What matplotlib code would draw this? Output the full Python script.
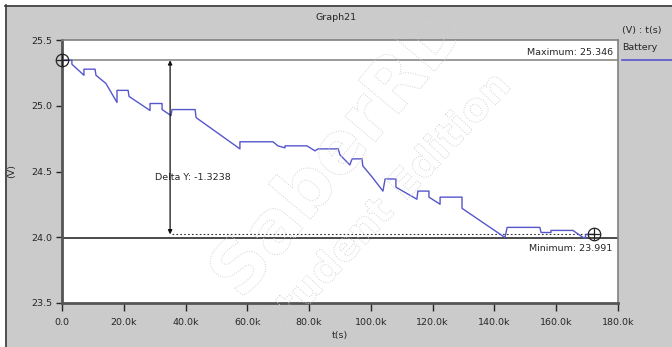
import matplotlib
matplotlib.use("Agg")
import matplotlib.pyplot as plt
import matplotlib.transforms as mtransforms
from matplotlib.patches import Rectangle, PathPatch
from matplotlib.textpath import TextPath
from matplotlib.font_manager import FontProperties
from matplotlib.ticker import FuncFormatter, MultipleLocator
from matplotlib.lines import Line2D
import numpy as np

# Battery voltage trace (time in k seconds, volts)
time_k = [0.0, 3.2, 3.2, 7.1, 7.1, 10.7, 11.0, 14.2, 17.8, 17.8, 21.4, 21.7,
          28.5, 28.5, 32.4, 32.4, 35.3, 35.6, 43.1, 43.4, 57.6, 57.6, 68.3,
          69.9, 72.2, 72.2, 79.3, 81.9, 82.9, 89.4, 90.0, 93.2, 93.9, 97.1,
          97.4, 100.4, 103.9, 104.6, 108.1, 108.1, 114.9, 115.2, 118.8, 118.8,
          122.4, 122.4, 129.5, 129.5, 143.4, 144.1, 154.7, 155.1, 158.3, 158.3,
          165.4, 168.7, 169.3, 169.6, 172.2]
volts = [25.346, 25.346, 25.316, 25.232, 25.278, 25.278, 25.232, 25.170,
         25.025, 25.117, 25.117, 25.071, 24.964, 25.017, 25.017, 24.971,
         24.925, 24.971, 24.971, 24.910, 24.672, 24.726, 24.726, 24.695,
         24.680, 24.695, 24.695, 24.657, 24.672, 24.672, 24.626, 24.550,
         24.596, 24.596, 24.542, 24.458, 24.351, 24.443, 24.443, 24.381,
         24.289, 24.351, 24.351, 24.305, 24.251, 24.305, 24.305, 24.220,
         23.998, 24.075, 24.075, 24.036, 24.036, 24.052, 24.052, 23.998,
         23.991, 24.022, 24.022]

# Cursor / measurement values
v_max = 25.346
v_min = 23.991
v_end = 24.022
delta_y = -1.3238
t_delta = 35.0e3
t_end = 172.2e3

W, H = 672, 347
GRAY = "#cbcbcb"
TRACE = "#5656cc"
TXT = "#262626"
FS = 6.8

fig = plt.figure(figsize=(W / 100, H / 100), dpi=100, facecolor="white")

# Sunken gray window panel
fig.add_artist(Rectangle((5 / W, 0), 1 - 5 / W, 1 - 5 / H, transform=fig.transFigure,
                         facecolor=GRAY, edgecolor="none", zorder=-10))
fig.add_artist(Line2D([5 / W, 1], [1 - 5.5 / H, 1 - 5.5 / H], transform=fig.transFigure,
                      color="#3a3a3a", lw=1.2))
fig.add_artist(Line2D([5.5 / W, 5.5 / W], [0, 1 - 5 / H], transform=fig.transFigure,
                      color="#3a3a3a", lw=1.2))

ax = fig.add_axes([62 / W, 1 - 303 / H, (618 - 62) / W, (303 - 40) / H])
ax.set_facecolor("white")

t_s = np.array(time_k) * 1000
ax.plot(t_s, volts, color=TRACE, lw=1.0, zorder=4)

# Max / min lines
ax.axhline(v_max, color="#8a8a8a", lw=1.2, zorder=2)
ax.axhline(v_min, color="#3c3c3c", lw=1.3, zorder=2)
ax.text(178.3e3, v_max + 0.025, "Maximum: 25.346", ha="right", va="bottom", fontsize=FS, color=TXT)
ax.text(178.3e3, v_min - 0.04, "Minimum: 23.991", ha="right", va="top", fontsize=FS, color=TXT)

# Delta Y cursor
ax.plot([t_delta + 500, t_end], [v_end, v_end], color="#333333", lw=0.8, ls=(0, (1.5, 2)), zorder=3)
ax.annotate("", xy=(t_delta, v_end), xytext=(t_delta, v_max),
            arrowprops=dict(arrowstyle="<|-|>", color="#111111", lw=0.9,
                            mutation_scale=6, shrinkA=0, shrinkB=0), zorder=5)
ax.text(30.1e3, 24.458, "Delta Y: " + str(delta_y), ha="left", va="center", fontsize=FS, color=TXT)

# Cursor crosshair markers
for cx, cy in [(0, v_max), (t_end, v_end)]:
    ax.plot(cx, cy, marker="o", ms=9, mfc="none", mec="#222222", mew=0.9, clip_on=False, zorder=6)
    ax.plot(cx, cy, marker="+", ms=9, mec="#222222", mew=0.9, clip_on=False, zorder=6)

ax.set_xlim(0, 180e3)
ax.set_ylim(23.5, 25.5)
ax.xaxis.set_major_locator(MultipleLocator(20e3))
ax.yaxis.set_major_locator(MultipleLocator(0.5))
ax.xaxis.set_major_formatter(FuncFormatter(lambda v, p: "0.0" if v == 0 else "%.1fk" % (v / 1000)))
ax.yaxis.set_major_formatter(FuncFormatter(lambda v, p: "%.1f" % v))
ax.tick_params(axis="both", labelsize=FS, colors=TXT, length=4, width=1, direction="out", pad=3)
ax.tick_params(axis="x", length=6, pad=5)

for side in ["left", "bottom"]:
    ax.spines[side].set_color("#555555")
    ax.spines[side].set_linewidth(2)
for side in ["top", "right"]:
    ax.spines[side].set_color("#808080")
    ax.spines[side].set_linewidth(1.2)

ax.set_xlabel("t(s)", fontsize=FS, color=TXT, labelpad=3)
ax.set_ylabel("(V)", fontsize=FS, color=TXT, labelpad=11)

fig.text(336 / W, 1 - 17 / H, "Graph21", ha="center", va="center", fontsize=FS, color=TXT)

# Legend column on the right
fig.text(622 / W, 1 - 30 / H, "(V) : t(s)", ha="left", va="center", fontsize=FS, color=TXT)
fig.text(622 / W, 1 - 47 / H, "Battery", ha="left", va="center", fontsize=FS, color=TXT)
fig.add_artist(Line2D([622 / W, 1], [1 - 60 / H, 1 - 60 / H], transform=fig.transFigure,
                      color=TRACE, lw=1.2))


# Dotted outline watermark
def watermark(text, cx, cy, length, angle):
    tp = TextPath((0, 0), text, size=100, prop=FontProperties(family="DejaVu Sans", weight="bold"))
    ext = tp.get_extents()
    s = length / ext.width
    tr = (mtransforms.Affine2D()
          .translate(-(ext.x0 + ext.width / 2), -(ext.y0 + ext.height / 2))
          .scale(s).rotate_deg(angle).translate(cx, H - cy))
    fig.add_artist(PathPatch(tp, transform=tr, facecolor="none", edgecolor="#d2d2d2",
                             lw=0.7, ls=(0, (1, 1.5)), zorder=1))


watermark("SaberRD", 335, 148, 345, 50)
watermark("Student Edition", 382, 205, 345, 47)

fig.savefig("out.png", dpi=100, facecolor=fig.get_facecolor())
